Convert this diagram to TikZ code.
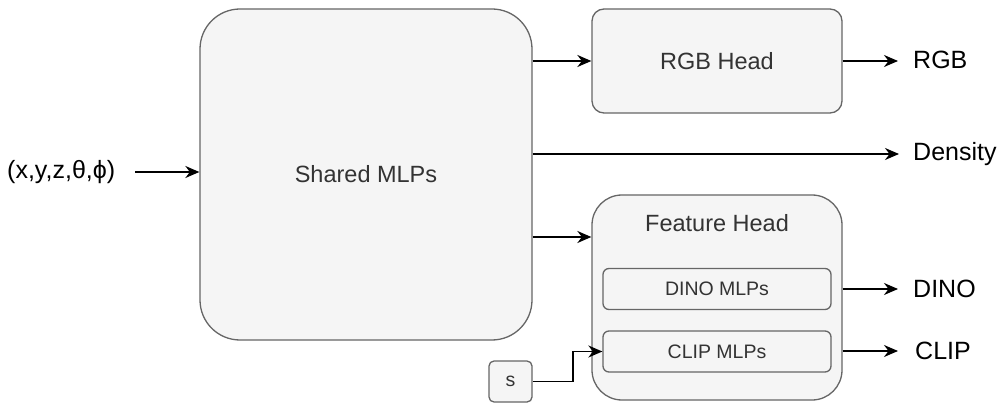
\documentclass[tikz,border=0pt]{standalone}
\usepackage{fontspec}
\setmainfont{Liberation Sans}
\usetikzlibrary{arrows.meta}
\definecolor{boxfill}{HTML}{F5F5F5}
\definecolor{boxline}{HTML}{666666}
\definecolor{boxtext}{HTML}{333333}
\begin{document}
\begin{tikzpicture}[x=1pt,y=-1pt,
	box/.style={draw=boxline,fill=boxfill,line width=1.3pt,text=boxtext,
		font=\fontsize{23.5}{27}\selectfont},
	small/.style={box,font=\fontsize{19.5}{23}\selectfont,rounded corners=6pt,
		minimum width=228pt,minimum height=41pt},
	lbl/.style={font=\fontsize{25}{29}\selectfont,inner sep=0pt},
	arr/.style={-{Stealth[length=14pt,width=12pt]},line width=1.7pt}]
	\useasboundingbox (0,0) rectangle (998,403);
	% main blocks
	\node[box,rounded corners=40pt,minimum width=332pt,minimum height=331pt] (shared) at (366,174.5) {Shared MLPs};
	\node[box,rounded corners=12pt,minimum width=250pt,minimum height=104pt] (rgbhead) at (717,61) {RGB Head};
	\node[box,rounded corners=30pt,minimum width=250pt,minimum height=205pt] (feat) at (717,297.5) {};
	\node[text=boxtext,font=\fontsize{23.5}{27}\selectfont] (feattitle) at (717,223) {Feature Head};
	\node[small] (dino) at (717,289) {DINO MLPs};
	\node[small] (clip) at (717,351.5) {CLIP MLPs};
	\node[box,rounded corners=5pt,minimum width=43pt,minimum height=41pt,font=\fontsize{19.5}{23}\selectfont] (s) at (510.5,381.5) {s};
	% inputs / outputs
	\node[lbl,anchor=west] (in) at (7,172) {(x,y,z,θ,ϕ)};
	\node[lbl,anchor=west] (rgb) at (913,60) {RGB};
	\node[lbl,anchor=west] (density) at (913,154) {Density};
	\node[lbl,anchor=west] (dinoout) at (913,289) {DINO};
	\node[lbl,anchor=west] (clipout) at (915,351) {CLIP};
	% connectors
	\draw[arr,shorten <=20pt] (in.east) -- (shared.west |- in.east);
	\draw[arr] (shared.east |- rgbhead.west) -- (rgbhead.west);
	\draw[arr,shorten >=14pt] (shared.east |- density.west) -- (density.west);
	\draw[arr] (shared.east |- 0,237) -- (feat.west |- 0,237);
	\draw[arr] (s.east) -- ++(40,0) |- (clip.west);
	\draw[arr,shorten >=15pt] (rgbhead.east) -- (rgbhead.east -| rgb.west);
	\draw[arr,shorten >=15pt] (feat.east |- dinoout.west) -- (dinoout.west);
	\draw[arr,shorten >=17pt] (feat.east |- clipout.west) -- (clipout.west);
\end{tikzpicture}
\end{document}
